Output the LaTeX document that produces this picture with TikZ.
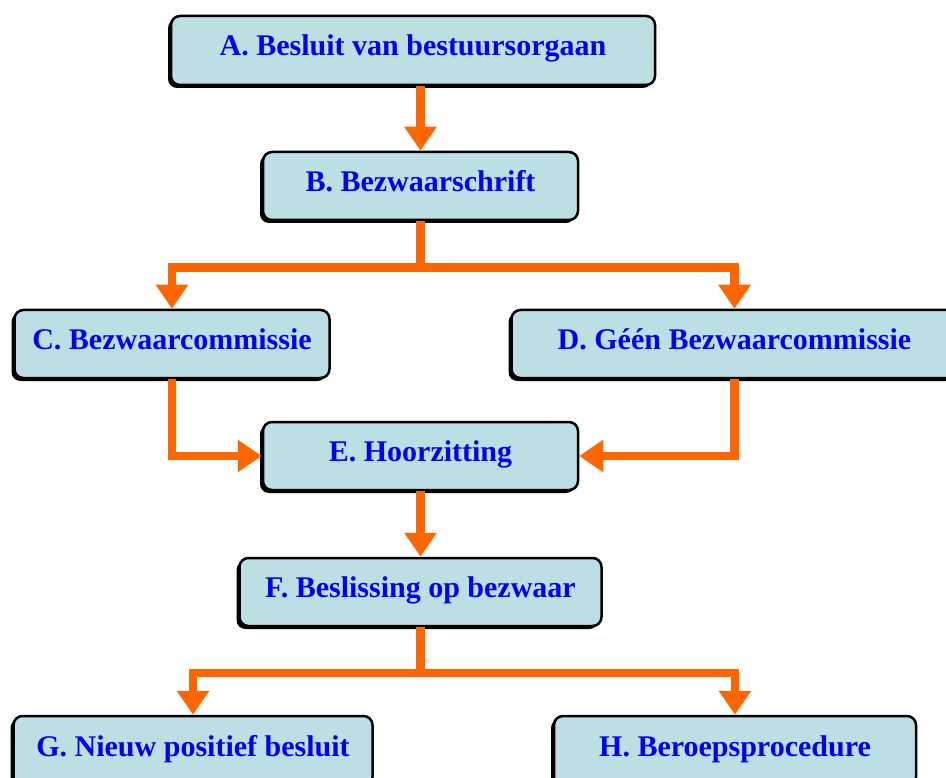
\documentclass[tikz,border=0pt]{standalone}
\usepackage{fontspec}
\setmainfont{Liberation Serif}
\usetikzlibrary{arrows.meta,shadows}
\definecolor{boxfill}{HTML}{BBDFE2}
\definecolor{arrowc}{HTML}{FF6600}
\definecolor{txtc}{HTML}{0000FF}
\begin{document}
\begin{tikzpicture}[x=1pt,y=-1pt,
  box/.style={draw=black, line width=2.5pt, fill=boxfill, rounded corners=9pt,
    minimum height=68pt, inner sep=0pt, text=txtc,
    font=\fontsize{30}{35}\selectfont\bfseries,
    text height=20pt, text depth=9.8pt,
    drop shadow={shadow xshift=-3pt, shadow yshift=-3pt, fill=black, opacity=1}},
  conn/.style={draw=arrowc, line width=8.5pt},
  arr/.style={conn, -{Triangle[width=31pt,length=24pt]}}]
\clip (0,0) rectangle (946,778);
\fill[white] (0,0) rectangle (946,778);
\node[box, minimum width=484pt, minimum height=69pt] (A) at (413,50.5) {A. Besluit van bestuursorgaan};
\node[box, minimum width=315pt] (B) at (420.5,186) {B. Bezwaarschrift};
\node[box, minimum width=315pt] (C) at (172,344) {C. Bezwaarcommissie};
\node[box, minimum width=446pt] (D) at (734.5,344) {D. Géén Bezwaarcommissie};
\node[box, minimum width=315pt] (E) at (420.5,456) {E. Hoorzitting};
\node[box, minimum width=362pt] (F) at (420.5,592) {F. Beslissing op bezwaar};
\node[box, minimum width=359pt, minimum height=70pt] (G) at (193,751) {G. Nieuw positief besluit};
\node[box, minimum width=362pt, minimum height=70pt] (H) at (735,751) {H. Beroepsprocedure};
\coordinate (j1) at (420.5,267.5);
\coordinate (j2) at (420.5,673);
\draw[arr] (B.north |- A.south) -- (B.north);
\draw[arr] (B.south) -- (j1) -| (C.north);
\draw[arr] (B.south) -- (j1) -| (D.north);
\draw[arr] (C.south) |- (E.west);
\draw[arr] (D.south) |- (E.east);
\draw[arr] (E.south) -- (F.north);
\draw[arr] (F.south) -- (j2) -| (G.north);
\draw[arr] (F.south) -- (j2) -| (H.north);
\end{tikzpicture}
\end{document}
